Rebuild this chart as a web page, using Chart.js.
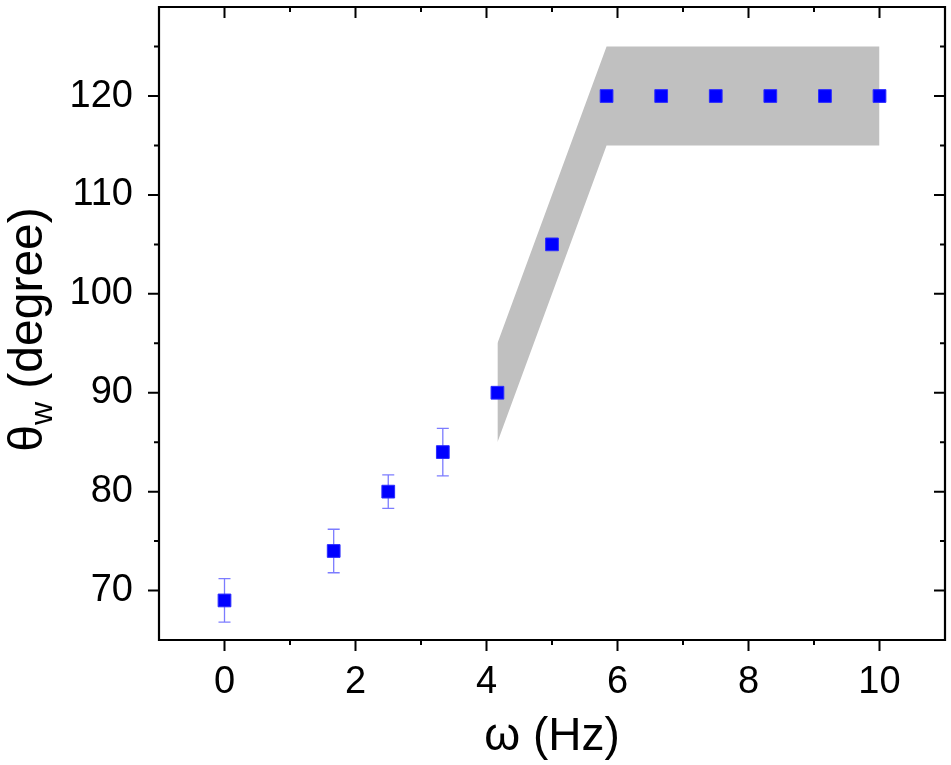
<!DOCTYPE html>
<html><head><meta charset="utf-8">
<script src="https://cdn.jsdelivr.net/npm/chart.js@4/dist/chart.umd.min.js"></script>
<style>html,body{margin:0;padding:0;background:#fff;} canvas{display:block;}</style>
</head><body>
<canvas id="c" width="951" height="765"></canvas>
<script>
const omega = [0, 1.667, 2.5, 3.333, 4.167, 5, 5.833, 6.667, 7.5, 8.333, 9.167, 10];
const theta = [69, 74, 80, 84, 90, 105, 120, 120, 120, 120, 120, 120];
const thetaErr = [2.2, 2.2, 1.7, 2.4, 0, 0, 0, 0, 0, 0, 0, 0];
const bandOmega = [4.167, 5.833, 10];
const bandUpper = [95, 125, 125];
const bandLower = [85, 115, 115];
const xTicks = [0, 2, 4, 6, 8, 10];
const xMinorTicks = [1, 3, 5, 7, 9];
const yTicks = [70, 80, 90, 100, 110, 120];
const yMinorTicks = [75, 85, 95, 105, 115, 125];
const xTitle = 'ω (Hz)';
const yTitleMain = 'θ';
const yTitleSub = 'w';
const yTitleRest = ' (degree)';

const FONT = 'Liberation Sans, Arial, sans-serif';

const errorBars = {
  id: 'errorBars',
  beforeDatasetsDraw(chart) {
    const ctx = chart.ctx, xs = chart.scales.x, ys = chart.scales.y;
    ctx.save();
    ctx.strokeStyle = 'rgba(80,80,255,0.75)';
    ctx.lineWidth = 1.3;
    omega.forEach((x, i) => {
      const e = thetaErr[i];
      if (!e) return;
      const px = xs.getPixelForValue(x);
      const top = ys.getPixelForValue(theta[i] + e);
      const bot = ys.getPixelForValue(theta[i] - e);
      ctx.beginPath();
      ctx.moveTo(px, top); ctx.lineTo(px, bot);
      ctx.moveTo(px - 6, top); ctx.lineTo(px + 6, top);
      ctx.moveTo(px - 6, bot); ctx.lineTo(px + 6, bot);
      ctx.stroke();
    });
    ctx.restore();
  }
};

const frameTicks = {
  id: 'frameTicks',
  afterDraw(chart) {
    const ctx = chart.ctx, xs = chart.scales.x, ys = chart.scales.y;
    const a = chart.chartArea;
    ctx.save();
    ctx.strokeStyle = '#000';
    ctx.lineWidth = 2.2;
    ctx.beginPath();
    ctx.rect(a.left, a.top, a.right - a.left, a.bottom - a.top);
    ctx.stroke();
    ctx.lineWidth = 2;
    ctx.beginPath();
    const MAJ = 11, MIN = 5;
    xTicks.forEach(v => {
      const p = xs.getPixelForValue(v);
      ctx.moveTo(p, a.bottom); ctx.lineTo(p, a.bottom + MAJ);
      ctx.moveTo(p, a.top); ctx.lineTo(p, a.top + MAJ);
    });
    xMinorTicks.forEach(v => {
      const p = xs.getPixelForValue(v);
      ctx.moveTo(p, a.bottom); ctx.lineTo(p, a.bottom + MIN);
      ctx.moveTo(p, a.top); ctx.lineTo(p, a.top + MIN);
    });
    yTicks.forEach(v => {
      const p = ys.getPixelForValue(v);
      ctx.moveTo(a.left, p); ctx.lineTo(a.left - MAJ, p);
      ctx.moveTo(a.right, p); ctx.lineTo(a.right - MAJ, p);
    });
    yMinorTicks.forEach(v => {
      const p = ys.getPixelForValue(v);
      ctx.moveTo(a.left, p); ctx.lineTo(a.left - MIN, p);
      ctx.moveTo(a.right, p); ctx.lineTo(a.right - MIN, p);
    });
    ctx.stroke();

    // y axis title with subscript
    const big = '48px ' + FONT, small = '32px ' + FONT;
    ctx.font = big;
    const w1 = ctx.measureText(yTitleMain).width;
    const w3 = ctx.measureText(yTitleRest).width;
    ctx.font = small;
    const w2 = ctx.measureText(yTitleSub).width;
    const total = w1 + w2 + w3;
    ctx.translate(42, (a.top + a.bottom) / 2 + 6);
    ctx.rotate(-Math.PI / 2);
    ctx.fillStyle = '#000';
    ctx.textBaseline = 'alphabetic';
    ctx.textAlign = 'left';
    let x0 = -total / 2;
    ctx.font = big; ctx.fillText(yTitleMain, x0, 0);
    ctx.font = small; ctx.fillText(yTitleSub, x0 + w1, 10);
    ctx.font = big; ctx.fillText(yTitleRest, x0 + w1 + w2, 0);
    ctx.restore();
  }
};

new Chart(document.getElementById('c'), {
  type: 'scatter',
  data: {
    datasets: [
      {
        label: 'theta',
        data: omega.map((x, i) => ({ x, y: theta[i] })),
        pointStyle: 'rect',
        pointRadius: 9,
        pointHoverRadius: 9,
        backgroundColor: '#0000ff',
        borderColor: '#2a2aff',
        borderWidth: 1,
        showLine: false,
        order: 0
      },
      {
        label: 'upper',
        data: bandOmega.map((x, i) => ({ x, y: bandUpper[i] })),
        showLine: true,
        pointRadius: 0,
        borderWidth: 0,
        borderColor: 'rgba(0,0,0,0)',
        backgroundColor: '#c0c0c0',
        fill: '+1',
        order: 1
      },
      {
        label: 'lower',
        data: bandOmega.map((x, i) => ({ x, y: bandLower[i] })),
        showLine: true,
        pointRadius: 0,
        borderWidth: 0,
        borderColor: 'rgba(0,0,0,0)',
        backgroundColor: '#c0c0c0',
        fill: false,
        order: 2
      }
    ]
  },
  options: {
    responsive: false,
    animation: false,
    devicePixelRatio: 1,
    layout: { autoPadding: false, padding: { top: 7, right: 6, left: 0, bottom: 0 } },
    plugins: { legend: { display: false }, tooltip: { enabled: false }, filler: { propagate: false } },
    scales: {
      x: {
        type: 'linear',
        min: -1, max: 11,
        afterBuildTicks: s => { s.ticks = xTicks.map(v => ({ value: v })); },
        afterFit: s => { s.height = 125; s.paddingLeft = 0; s.paddingRight = 0; s.paddingTop = 0; s.paddingBottom = 0; },
        grid: { display: true, drawOnChartArea: false, drawTicks: false },
        border: { display: false },
        ticks: { color: '#000', font: { family: FONT, size: 38 }, padding: 20, maxRotation: 0, autoSkip: false },
        title: { display: true, text: xTitle, color: '#000', font: { family: FONT, size: 46 }, padding: { top: 0, bottom: 0 } }
      },
      y: {
        type: 'linear',
        min: 65, max: 129,
        afterBuildTicks: s => { s.ticks = yTicks.map(v => ({ value: v })); },
        afterFit: s => { s.width = 159; s.paddingTop = 0; s.paddingBottom = 0; s.paddingLeft = 0; s.paddingRight = 0; },
        grid: { display: true, drawOnChartArea: false, drawTicks: false },
        border: { display: false },
        ticks: { color: '#000', font: { family: FONT, size: 38 }, padding: 26, autoSkip: false },
        title: { display: false }
      }
    }
  },
  plugins: [errorBars, frameTicks]
});
</script>
</body></html>
